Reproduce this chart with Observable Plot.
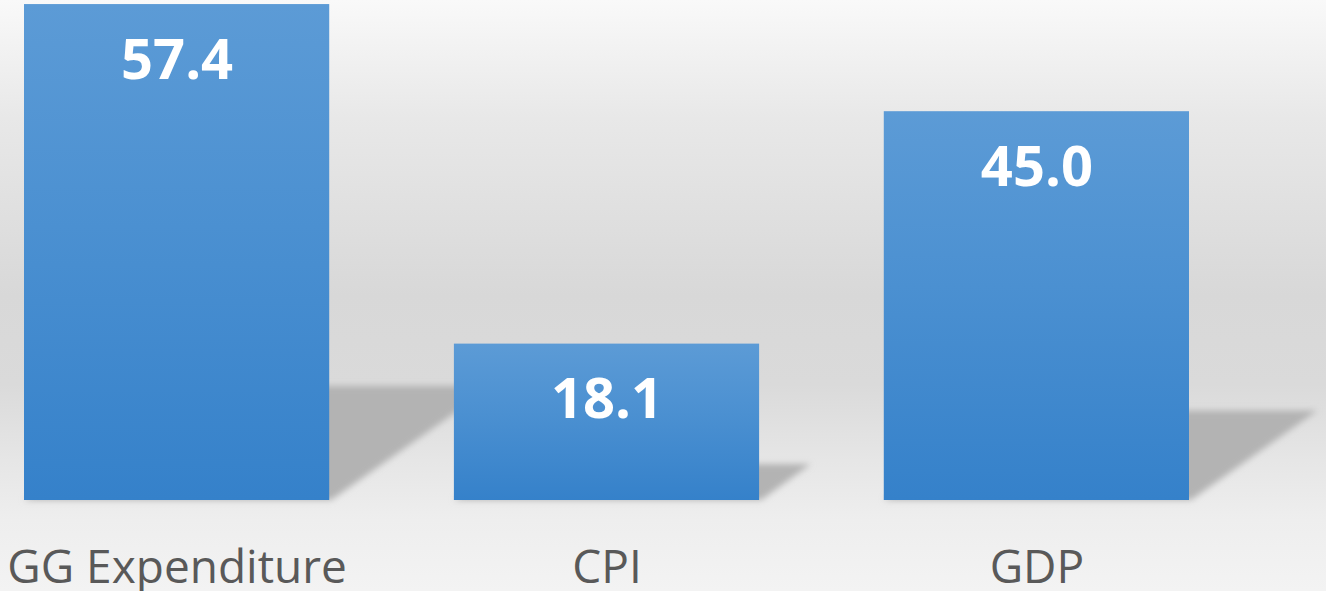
<!DOCTYPE html>
<html>
<head>
<meta charset="utf-8">
<script src="https://cdn.jsdelivr.net/npm/d3@7"></script>
<script src="https://cdn.jsdelivr.net/npm/@observablehq/plot@0.6"></script>
<style>
  html, body { margin: 0; padding: 0; background: #f2f2f2; }
  #chart svg { display: block; }
</style>
</head>
<body>
<div id="chart"></div>
<script>
const categories = ["GG Expenditure", "CPI", "GDP"];
const values = [57.4, 18.1, 45.0];

const data = categories.map((c, i) => ({category: c, value: values[i]}));

const W = 1326, H = 591;

function defsMark() {
  const ns = "http://www.w3.org/2000/svg";
  const g = document.createElementNS(ns, "g");
  g.innerHTML = `
    <defs>
      <linearGradient id="barGrad" x1="0" y1="0" x2="0" y2="1">
        <stop offset="0" stop-color="#5c9bd6"/>
        <stop offset="0.45" stop-color="#4b90d1"/>
        <stop offset="1" stop-color="#3581ca"/>
      </linearGradient>
      <filter id="shadowBlur" x="-20%" y="-20%" width="140%" height="140%">
        <feGaussianBlur stdDeviation="3"/>
      </filter>
    </defs>`;
  return g;
}

function shadowMark(index, scales) {
  const ns = "http://www.w3.org/2000/svg";
  const g = document.createElementNS(ns, "g");
  g.setAttribute("filter", "url(#shadowBlur)");
  const x = scales.x, y = scales.y;
  const bw = typeof x.bandwidth === "function" ? x.bandwidth() : x.bandwidth;
  for (const d of data) {
    const L = x(d.category), R = L + bw;
    const B = y(0), T = y(d.value);
    const h = B - T;
    const sy = B - 0.23 * h, sx = 0.33 * h;
    const p = document.createElementNS(ns, "polygon");
    p.setAttribute("points", `${L},${B} ${L + sx},${sy} ${R + sx},${sy} ${R + 2},${B}`);
    p.setAttribute("fill", "#b3b3b3");
    g.appendChild(p);
  }
  return g;
}

const chart = Plot.plot({
  width: W,
  height: H,
  marginTop: 0,
  marginBottom: 91,
  marginLeft: 0,
  marginRight: 0,
  style: {
    background: "linear-gradient(to bottom, #f9f9f9 0%, #e8e8e8 20%, #d8d8d8 50%, #dadada 65%, #e6e6e6 78%, #eeeeee 88%, #f3f3f3 100%)",
    fontFamily: "'Open Sans', sans-serif"
  },
  x: {
    type: "band",
    domain: categories,
    range: [24, 1189],
    paddingInner: 0.29,
    paddingOuter: 0,
    round: false,
    axis: null
  },
  y: {
    domain: [0, 60],
    range: [500, 500 - 60 * 8.64],
    axis: null
  },
  marks: [
    defsMark,
    shadowMark,
    Plot.barY(data, {x: "category", y: "value", fill: "url(#barGrad)"}),
    Plot.text(data, {
      x: "category", y: "value", text: d => d.value.toFixed(1),
      dy: 74, lineAnchor: "bottom", fill: "white",
      fontSize: 56, fontWeight: 700
    }),
    Plot.text(categories, {
      x: d => d, frameAnchor: "bottom", dy: 82, lineAnchor: "bottom",
      fill: "#595959", fontSize: 46, fontWeight: 400
    })
  ]
});

document.getElementById("chart").appendChild(chart);
</script>
</body>
</html>
